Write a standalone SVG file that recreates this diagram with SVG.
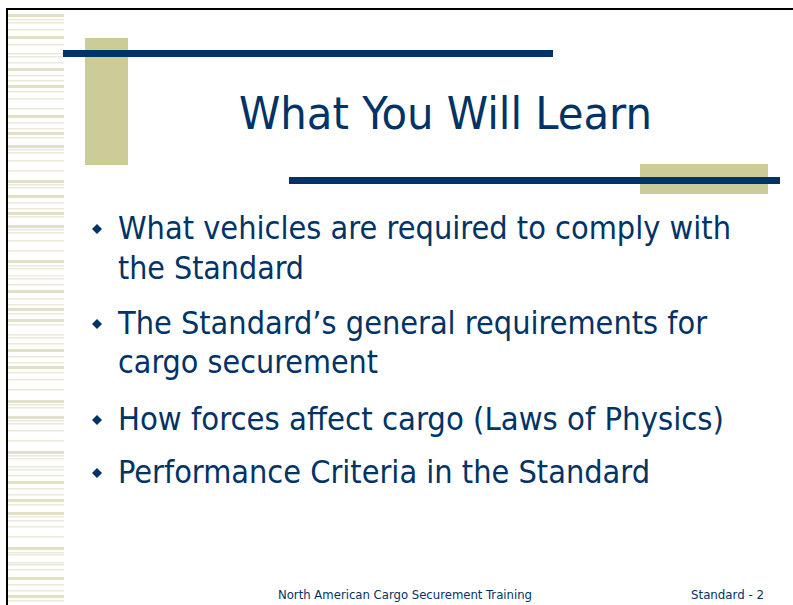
<svg xmlns="http://www.w3.org/2000/svg" width="793" height="605" viewBox="0 0 793 605">
<style>
.tk{fill:#e3e1c5}
.tn{fill:#eceada}
.t{font-family:"DejaVu Sans Condensed","DejaVu Sans","Liberation Sans",sans-serif;fill:#003366}
.b{font-size:32px}
.f{font-size:12.5px}
</style>
<defs>
<path id="dm" d="M0 -5 L5 0 L0 5 L-5 0 Z" fill="#003366"/>
</defs>
<rect width="793" height="605" fill="#ffffff"/>
<g id="stripes">
<rect class="tk" x="8" y="14" width="56" height="3"/>
<rect class="tn" x="8" y="19" width="56" height="1.5"/>
<rect class="tn" x="8" y="22" width="56" height="1.5"/>
<rect class="tn" x="8" y="29" width="56" height="1.5"/>
<rect class="tk" x="8" y="36" width="56" height="3"/>
<rect class="tn" x="8" y="44" width="56" height="1.5"/>
<rect class="tn" x="8" y="53" width="56" height="1.5"/>
<rect class="tn" x="8" y="56" width="56" height="1.5"/>
<rect class="tn" x="8" y="62" width="56" height="1.5"/>
<rect class="tk" x="8" y="68" width="56" height="3"/>
<rect class="tn" x="8" y="75" width="56" height="1.5"/>
<rect class="tn" x="8" y="80" width="56" height="1.5"/>
<rect class="tk" x="8" y="85" width="56" height="3"/>
<rect class="tn" x="8" y="91" width="56" height="1.5"/>
<rect class="tn" x="8" y="98" width="56" height="1.5"/>
<rect class="tn" x="8" y="108" width="56" height="1.5"/>
<rect class="tk" x="8" y="115" width="56" height="3"/>
<rect class="tn" x="8" y="122" width="56" height="1.5"/>
<rect class="tn" x="8" y="128" width="56" height="1.5"/>
<rect class="tk" x="8" y="132" width="56" height="3"/>
<rect class="tn" x="8" y="137" width="56" height="1.5"/>
<rect class="tk" x="8" y="145" width="56" height="3"/>
<rect class="tn" x="8" y="149" width="56" height="1.5"/>
<rect class="tn" x="8" y="152" width="56" height="1.5"/>
<rect class="tn" x="8" y="160" width="56" height="1.5"/>
<rect class="tn" x="8" y="170" width="56" height="1.5"/>
<rect class="tk" x="8" y="180" width="56" height="3"/>
<rect class="tn" x="8" y="184" width="56" height="1.5"/>
<rect class="tn" x="8" y="187" width="56" height="1.5"/>
<rect class="tk" x="8" y="195" width="56" height="3"/>
<rect class="tn" x="8" y="202" width="56" height="1.5"/>
<rect class="tn" x="8" y="208" width="56" height="1.5"/>
<rect class="tk" x="8" y="212" width="56" height="3"/>
<rect class="tn" x="8" y="216" width="56" height="1.5"/>
<rect class="tk" x="8" y="225" width="56" height="3"/>
<rect class="tn" x="8" y="229" width="56" height="1.5"/>
<rect class="tn" x="8" y="232" width="56" height="1.5"/>
<rect class="tn" x="8" y="240" width="56" height="1.5"/>
<rect class="tn" x="8" y="250" width="56" height="1.5"/>
<rect class="tk" x="8" y="260" width="56" height="3"/>
<rect class="tn" x="8" y="265" width="56" height="1.5"/>
<rect class="tn" x="8" y="268" width="56" height="1.5"/>
<rect class="tn" x="8" y="275" width="56" height="1.5"/>
<rect class="tn" x="8" y="278" width="56" height="1.5"/>
<rect class="tn" x="8" y="284" width="56" height="1.5"/>
<rect class="tk" x="8" y="290" width="56" height="3"/>
<rect class="tn" x="8" y="298" width="56" height="1.5"/>
<rect class="tn" x="8" y="304" width="56" height="1.5"/>
<rect class="tk" x="8" y="308" width="56" height="3"/>
<rect class="tn" x="8" y="313" width="56" height="1.5"/>
<rect class="tk" x="8" y="319" width="56" height="3"/>
<rect class="tn" x="8" y="324" width="56" height="1.5"/>
<rect class="tn" x="8" y="334" width="56" height="1.5"/>
<rect class="tn" x="8" y="337" width="56" height="1.5"/>
<rect class="tn" x="8" y="343" width="56" height="1.5"/>
<rect class="tk" x="8" y="349" width="56" height="3"/>
<rect class="tn" x="8" y="356" width="56" height="1.5"/>
<rect class="tn" x="8" y="362" width="56" height="1.5"/>
<rect class="tk" x="8" y="366" width="56" height="3"/>
<rect class="tn" x="8" y="372" width="56" height="1.5"/>
<rect class="tn" x="8" y="379" width="56" height="1.5"/>
<rect class="tn" x="8" y="389" width="56" height="1.5"/>
<rect class="tk" x="8" y="400" width="56" height="3"/>
<rect class="tn" x="8" y="404" width="56" height="1.5"/>
<rect class="tn" x="8" y="407" width="56" height="1.5"/>
<rect class="tk" x="8" y="416" width="56" height="3"/>
<rect class="tn" x="8" y="420" width="56" height="1.5"/>
<rect class="tn" x="8" y="423" width="56" height="1.5"/>
<rect class="tn" x="8" y="430" width="56" height="1.5"/>
<rect class="tn" x="8" y="440" width="56" height="1.5"/>
<rect class="tk" x="8" y="451" width="56" height="3"/>
<rect class="tn" x="8" y="455" width="56" height="1.5"/>
<rect class="tn" x="8" y="458" width="56" height="1.5"/>
<rect class="tn" x="8" y="466" width="56" height="1.5"/>
<rect class="tn" x="8" y="469" width="56" height="1.5"/>
<rect class="tn" x="8" y="475" width="56" height="1.5"/>
<rect class="tk" x="8" y="481" width="56" height="3"/>
<rect class="tn" x="8" y="488" width="56" height="1.5"/>
<rect class="tn" x="8" y="494" width="56" height="1.5"/>
<rect class="tk" x="8" y="499" width="56" height="3"/>
<rect class="tn" x="8" y="504" width="56" height="1.5"/>
<rect class="tk" x="8" y="512" width="56" height="3"/>
<rect class="tn" x="8" y="516" width="56" height="1.5"/>
<rect class="tn" x="8" y="520" width="56" height="1.5"/>
<rect class="tn" x="8" y="526" width="56" height="1.5"/>
<rect class="tn" x="8" y="536" width="56" height="1.5"/>
<rect class="tk" x="8" y="547" width="56" height="3"/>
<rect class="tn" x="8" y="552" width="56" height="1.5"/>
<rect class="tn" x="8" y="554" width="56" height="1.5"/>
<rect class="tn" x="8" y="562" width="56" height="1.5"/>
<rect class="tn" x="8" y="564" width="56" height="1.5"/>
<rect class="tn" x="8" y="569" width="56" height="1.5"/>
<rect class="tk" x="8" y="577" width="56" height="3"/>
<rect class="tn" x="8" y="584" width="56" height="1.5"/>
<rect class="tn" x="8" y="590" width="56" height="1.5"/>
<rect class="tk" x="8" y="595" width="56" height="3"/>
<rect class="tn" x="8" y="600" width="56" height="1.5"/>
</g>
<g id="frame">
<rect x="6" y="8" width="787" height="2" fill="#000000"/>
<rect x="6" y="8" width="2" height="597" fill="#000000"/>
</g>
<g id="decor">
<rect x="85" y="38" width="43" height="127" fill="#cccc99"/>
<rect x="63" y="50" width="490" height="7" fill="#003366"/>
<rect x="640" y="164" width="128" height="30" fill="#cccc99"/>
<rect x="289" y="177" width="491" height="7" fill="#003366"/>
</g>
<g id="title">
<text class="t" x="239" y="129" font-size="45" textLength="413" lengthAdjust="spacingAndGlyphs">What You Will Learn</text>
</g>
<g id="bullets">
<use href="#dm" x="97" y="229"/>
<text class="t b" x="118" y="239" textLength="613" lengthAdjust="spacingAndGlyphs">What vehicles are required to comply with</text>
<text class="t b" x="118" y="279" textLength="186" lengthAdjust="spacingAndGlyphs">the Standard</text>
<use href="#dm" x="97" y="324"/>
<text class="t b" x="118" y="334" textLength="589" lengthAdjust="spacingAndGlyphs">The Standard’s general requirements for</text>
<text class="t b" x="118" y="373" textLength="260" lengthAdjust="spacingAndGlyphs">cargo securement</text>
<use href="#dm" x="97" y="420"/>
<text class="t b" x="118" y="430" textLength="606" lengthAdjust="spacingAndGlyphs">How forces affect cargo (Laws of Physics)</text>
<use href="#dm" x="97" y="473"/>
<text class="t b" x="118" y="483" textLength="532" lengthAdjust="spacingAndGlyphs">Performance Criteria in the Standard</text>
</g>
<g id="footer">
<text class="t f" x="278" y="599" textLength="254" lengthAdjust="spacingAndGlyphs">North American Cargo Securement Training</text>
<text class="t f" x="691" y="599" textLength="73" lengthAdjust="spacingAndGlyphs">Standard - 2</text>
</g>
</svg>
